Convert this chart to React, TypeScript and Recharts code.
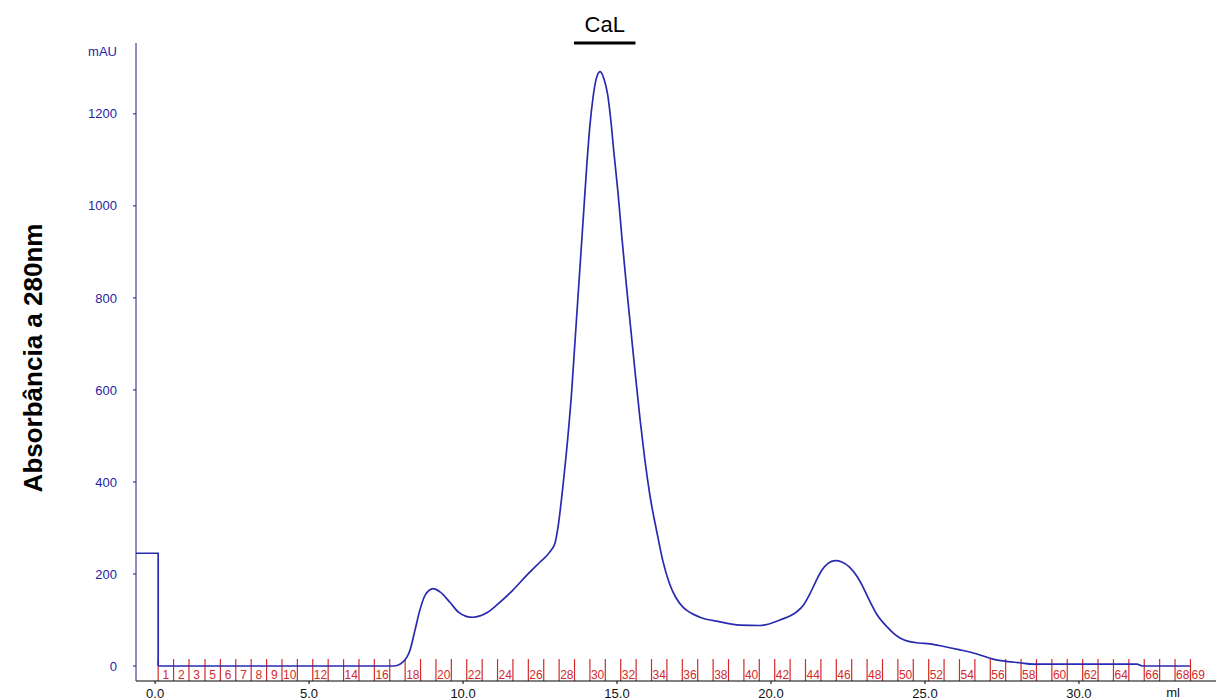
import React from 'react';
import { ComposedChart, Line, Scatter, XAxis, YAxis, ReferenceLine, Label } from 'recharts';

// Injection step (sample loop) trace
const injectionMl = [-0.62, 0.1, 0.1];
const injectionMau = [245, 245, 0];

// UV 280 nm elution trace
const elutionMl = [
  0.1, 7.75, 8.05, 8.28, 8.44, 8.6, 8.77, 9.03, 9.25, 9.58, 9.85, 10.1, 10.32, 10.55, 10.8,
  11.1, 11.62, 12.08, 12.5, 12.82, 12.99, 13.08, 13.25, 13.4, 13.52, 13.62, 13.72, 13.82,
  13.92, 14.02, 14.12, 14.22, 14.32, 14.45, 14.58, 14.7, 14.8, 14.9, 15.03, 15.16, 15.3,
  15.45, 15.6, 15.75, 15.9, 16.07, 16.3, 16.49, 16.7, 16.9, 17.14, 17.4, 17.69, 18.34, 18.99,
  19.64, 20.29, 20.84, 21.05, 21.25, 21.45, 21.65, 21.85, 22.08, 22.3, 22.55, 22.79, 23.0,
  23.2, 23.44, 23.77, 24.0, 24.19, 24.5, 24.8, 25.16, 25.58, 26.14, 26.69, 27.21, 27.53,
  28.08, 28.51, 31.88, 32.05, 33.6,
];
const elutionMau = [
  0, 0, 9, 35, 78, 122, 154, 168, 161, 138, 117, 108, 106, 109, 117,
  133, 165, 198, 226, 248, 268, 300, 395, 495, 590, 690, 790, 890,
  990, 1090, 1175, 1235, 1275, 1292, 1275, 1240, 1185, 1115, 1030, 930, 830,
  730, 630, 535, 450, 370, 289, 228, 180, 150, 128, 115, 106, 96, 89,
  88, 100, 118, 132, 155, 183, 208, 223, 229, 226, 215, 195, 170,
  142, 112, 85, 70, 61, 53, 50, 48, 43, 35, 26, 15, 11,
  7, 4, 4, 0, 0,
];

const xTicks = [0, 5, 10, 15, 20, 25, 30];
const yTicks = [0, 200, 400, 600, 800, 1000, 1200];

// Fraction collector marks (start of each fraction, ml) and their printed labels
const fractionStartMl = [
  0.1, 0.6, 1.1, 1.62, 2.12, 2.62, 3.12, 3.62, 4.12, 4.62, 5.12, 5.62, 6.12, 6.62, 7.12, 7.62,
  8.12, 8.62, 9.12, 9.62, 10.12, 10.62, 11.12, 11.62, 12.12, 12.62, 13.12, 13.62, 14.12, 14.62,
  15.12, 15.62, 16.12, 16.62, 17.12, 17.62, 18.12, 18.62, 19.12, 19.62, 20.12, 20.62, 21.12,
  21.62, 22.12, 22.62, 23.12, 23.62, 24.12, 24.62, 25.12, 25.62, 26.12, 26.62, 27.12, 27.62,
  28.12, 28.62, 29.12, 29.62, 30.12, 30.62, 31.12, 31.62, 32.12, 32.62, 33.12, 33.62,
];
const fractionLabels = [
  '1', '2', '3', '5', '6', '7', '8', '9', '10', '', '12', '', '14', '', '16', '', '18', '', '20',
  '', '22', '', '24', '', '26', '', '28', '', '30', '', '32', '', '34', '', '36', '', '38', '',
  '40', '', '42', '', '44', '', '46', '', '48', '', '50', '', '52', '', '54', '', '56', '', '58',
  '', '60', '', '62', '', '64', '', '66', '', '68', '69',
];

// Pooled fraction bar
const poolName = 'CaL';
const poolMl = [13.6, 15.6];

const X_DOMAIN: [number, number] = [-0.62, 34.45];
const Y_DOMAIN: [number, number] = [-32.6, 1354];
const FRACTION_TOP = 15;
const FRACTION_LABEL_Y = -18;

const injectionData = injectionMl.map((x, i) => ({ x, y: injectionMau[i] }));
const elutionData = elutionMl.map((x, i) => ({ x, y: elutionMau[i] }));
const fractionLabelData = fractionStartMl
  .map((s, i) => ({ x: s + 0.25, y: FRACTION_LABEL_Y, label: fractionLabels[i] }))
  .filter((d) => d.label !== '');

const FONT = '"Liberation Sans", Arial, Helvetica, sans-serif';
const TRACE = '#2a2ab0';
const RED = '#d42a2a';
const AXIS_BLUE = '#1e1e90';

const FractionLabel = (props: any) => {
  const { cx, cy, payload } = props;
  return (
    <text x={cx} y={cy} dy="0.36em" textAnchor="middle" fontSize={12} fontFamily={FONT} fill={RED}>
      {payload.label}
    </text>
  );
};

export default function App() {
  return (
    <div style={{ position: 'absolute', left: 0, top: 0, background: '#fff' }}>
      <ComposedChart width={1216} height={700} margin={{ top: 43, right: 0, bottom: 0, left: 0 }}>
        <XAxis
          type="number"
          dataKey="x"
          domain={X_DOMAIN}
          allowDataOverflow
          ticks={xTicks}
          tickFormatter={(v: number) => v.toFixed(1)}
          height={19}
          tickSize={3}
          tickMargin={5}
          stroke="#000"
          tick={{ fill: '#111', fontSize: 13, fontFamily: FONT }}
        >
          <Label
            content={() => (
              <text x={1173} y={697} textAnchor="middle" fontSize={13} fontFamily={FONT} fill="#111">
                ml
              </text>
            )}
          />
        </XAxis>
        <YAxis
          type="number"
          dataKey="y"
          domain={Y_DOMAIN}
          allowDataOverflow
          ticks={yTicks}
          width={136}
          tickSize={3}
          tickMargin={16}
          stroke={AXIS_BLUE}
          tick={{ fill: '#2525a5', fontSize: 13, fontFamily: FONT }}
        >
          <Label
            content={() => (
              <g>
                <text x={117} y={51} dy="0.36em" textAnchor="end" fontSize={13} fontFamily={FONT} fill="#2525a5">
                  mAU
                </text>
                <text
                  x={42}
                  y={358}
                  transform="rotate(-90 42 358)"
                  textAnchor="middle"
                  fontSize={26}
                  fontWeight="bold"
                  fontFamily={FONT}
                  fill="#000"
                >
                  Absorbância a 280nm
                </text>
              </g>
            )}
          />
        </YAxis>

        {fractionStartMl.map((s, i) => (
          <ReferenceLine
            key={`f${i}`}
            segment={[
              { x: s, y: FRACTION_TOP },
              { x: s, y: Y_DOMAIN[0] },
            ]}
            stroke={RED}
            strokeWidth={1.2}
          />
        ))}

        <ReferenceLine
          segment={[
            { x: poolMl[0], y: Y_DOMAIN[1] },
            { x: poolMl[1], y: Y_DOMAIN[1] },
          ]}
          stroke="#000"
          strokeWidth={3}
          ifOverflow="visible"
        >
          <Label value={poolName} position="top" offset={11} fontSize={22} fontFamily={FONT} fill="#000" />
        </ReferenceLine>

        <Scatter
          data={fractionLabelData}
          dataKey="y"
          shape={FractionLabel}
          isAnimationActive={false}
        />
        <Line
          data={injectionData}
          dataKey="y"
          type="linear"
          stroke={TRACE}
          strokeWidth={1.7}
          dot={false}
          isAnimationActive={false}
        />
        <Line
          data={elutionData}
          dataKey="y"
          type="monotone"
          stroke={TRACE}
          strokeWidth={1.7}
          dot={false}
          isAnimationActive={false}
        />
      </ComposedChart>
    </div>
  );
}
